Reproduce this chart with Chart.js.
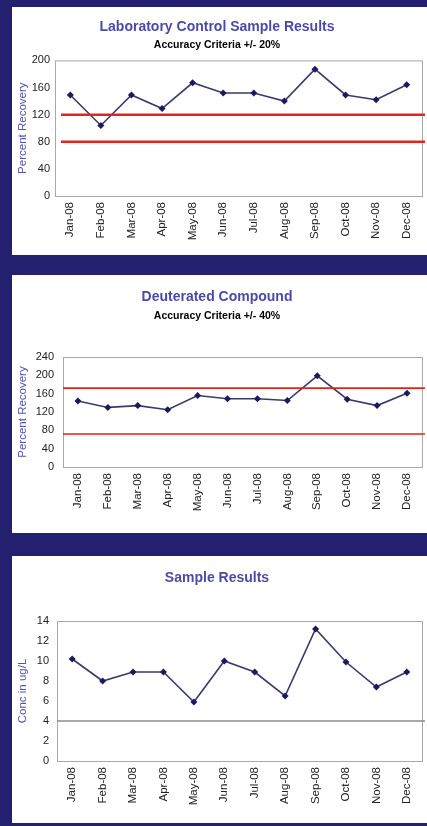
<!DOCTYPE html>
<html>
<head>
<meta charset="utf-8">
<script src="https://cdn.jsdelivr.net/npm/chart.js@4.4.1/dist/chart.umd.min.js"></script>
<style>
    html, body { margin: 0; padding: 0; }
    body { width: 427px; height: 826px; background: #23206f; position: relative; overflow: hidden; }
    .panel { position: absolute; left: 12px; width: 415px; background: #fff; }
    .panel canvas { display: block; }
</style>
</head>
<body>
<div class="panel" style="top:7px;height:248px"><canvas id="lcsChart" width="415" height="248"></canvas></div>
<div class="panel" style="top:275px;height:258px"><canvas id="deutChart" width="415" height="258"></canvas></div>
<div class="panel" style="top:556px;height:267px"><canvas id="sampleChart" width="415" height="267"></canvas></div>
<script>
const months = ['Jan-08', 'Feb-08', 'Mar-08', 'Apr-08', 'May-08', 'Jun-08',
    'Jul-08', 'Aug-08', 'Sep-08', 'Oct-08', 'Nov-08', 'Dec-08'];

// Laboratory control sample
const lcsRecovery = [149, 104, 149, 129, 167, 152, 152, 140, 187, 149, 142, 164];
const lcsLimits = [120, 80];
const lcsTicks = [0, 40, 80, 120, 160, 200];

// Deuterated compound
const deutRecovery = [144, 130, 134, 125, 156, 149, 149, 145, 199, 148, 134, 161];
const deutLimits = [172, 72];
const deutTicks = [0, 40, 80, 120, 160, 200, 240];

// Sample results
const sampleConc = [10.2, 8.0, 8.9, 8.9, 5.9, 10.0, 8.9, 6.5, 13.2, 9.9, 7.4, 8.9];
const sampleLimits = [4];
const sampleTicks = [0, 2, 4, 6, 8, 10, 12, 14];

const FONT = 'Arial, "Liberation Sans", sans-serif';
const BLUE = '#4c4aa8';

// frame around the plot + horizontal limit lines
const limitLines = {
    id: 'limitLines',
    afterDatasetsDraw(chart, args, opts) {
        const { ctx, chartArea: a, scales: { y } } = chart;
        ctx.save();
        ctx.strokeStyle = '#a8a8a8';
        ctx.lineWidth = 1;
        ctx.strokeRect(a.left + 0.5, a.top + 0.5, a.right - a.left, a.bottom - a.top);
        ctx.strokeStyle = opts.color;
        ctx.lineWidth = opts.width;
        opts.values.forEach(v => {
            const py = y.getPixelForValue(v);
            ctx.beginPath();
            ctx.moveTo(a.left + opts.inset, py);
            ctx.lineTo(a.right + 3, py);
            ctx.stroke();
        });
        ctx.restore();
    }
};

const makeChart = (id, cfg) => {
    const ticks = cfg.ticks;
    return new Chart(document.getElementById(id), {
        type: 'line',
        data: {
            labels: months,
            datasets: [{
                data: cfg.values,
                borderColor: '#3a3a6c',
                borderWidth: 1.6,
                backgroundColor: '#1c1a5e',
                pointStyle: 'rectRot',
                pointRadius: 3.5,
                pointBorderWidth: 0,
                tension: 0
            }]
        },
        options: {
            responsive: false,
            animation: false,
            layout: { padding: { left: 0, right: 5, top: 0, bottom: 0 } },
            plugins: {
                legend: { display: false },
                tooltip: { enabled: false },
                title: {
                    display: true,
                    text: cfg.title,
                    color: BLUE,
                    font: { family: FONT, size: 14, weight: 'bold' },
                    padding: { top: cfg.titleTop, bottom: cfg.titleBottom }
                },
                subtitle: {
                    display: !!cfg.subtitle,
                    text: cfg.subtitle || '',
                    color: '#000',
                    font: { family: FONT, size: 10.5, weight: 'bold' },
                    padding: { top: 0, bottom: cfg.subBottom }
                },
                limitLines: { values: cfg.limits, color: cfg.limitColor, width: cfg.limitWidth, inset: cfg.limitInset }
            },
            scales: {
                x: {
                    offset: true,
                    grid: { display: false, drawTicks: false },
                    border: { display: false },
                    ticks: {
                        color: '#222',
                        font: { family: FONT, size: 11.5 },
                        minRotation: 90,
                        maxRotation: 90,
                        autoSkip: false,
                        padding: 6
                    },
                    afterFit: s => { s.height = cfg.xHeight; }
                },
                y: {
                    min: ticks[0],
                    max: ticks[ticks.length - 1],
                    afterBuildTicks: s => { s.ticks = ticks.map(v => ({ value: v })); },
                    grid: { display: false, drawTicks: false },
                    border: { display: false },
                    ticks: {
                        color: '#222',
                        font: { family: FONT, size: 11 },
                        padding: cfg.tickPad
                    },
                    title: {
                        display: true,
                        text: cfg.yTitle,
                        color: '#5553b0',
                        font: { family: FONT, size: 11.5 },
                        padding: { top: 4, bottom: 0 }
                    },
                    afterFit: s => { s.width = cfg.yWidth; }
                }
            }
        },
        plugins: [limitLines]
    });
};

makeChart('lcsChart', {
    title: 'Laboratory Control Sample Results',
    subtitle: 'Accuracy Criteria +/- 20%',
    titleTop: 12, titleBottom: 3, subBottom: 9,
    values: lcsRecovery, ticks: lcsTicks, limits: lcsLimits,
    limitColor: '#e3231c', limitWidth: 2.5, limitInset: 6,
    yTitle: 'Percent Recovery', yWidth: 43, tickPad: 5, xHeight: 59
});

makeChart('deutChart', {
    title: 'Deuterated Compound',
    subtitle: 'Accuracy Criteria +/- 40%',
    titleTop: 13.6, titleBottom: 4, subBottom: 35,
    values: deutRecovery, ticks: deutTicks, limits: deutLimits,
    limitColor: '#e3231c', limitWidth: 1.6, limitInset: 0,
    yTitle: 'Percent Recovery', yWidth: 51, tickPad: 9, xHeight: 66
});

makeChart('sampleChart', {
    title: 'Sample Results',
    titleTop: 13.6, titleBottom: 34.6, subBottom: 0,
    values: sampleConc, ticks: sampleTicks, limits: sampleLimits,
    limitColor: '#8c8c8c', limitWidth: 1.5, limitInset: 0,
    yTitle: 'Conc in ug/L', yWidth: 45, tickPad: 8, xHeight: 62
});
</script>
</body>
</html>
